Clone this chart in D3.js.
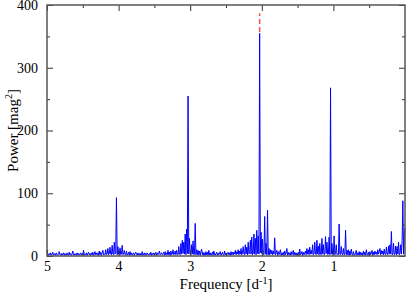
<!DOCTYPE html>
<html>
<head>
<meta charset="utf-8">
<script src="https://cdn.jsdelivr.net/npm/d3@7"></script>
<style>
body { margin: 0; background: #fff; }
</style>
</head>
<body>
<svg id="viz"></svg>
<script>
var width = 407;
var height = 293;
var serif = "Liberation Serif";

// periodogram, frequency from 5.00 down to 0.00 in steps of 0.01 d^-1
var fStart = 5.0;
var fStep = 0.01;
var power = [
  9, 2, 1, 4, 2, 5, 1, 3, 6, 1,
  3, 4, 1, 5, 2, 1, 4, 7, 2, 1,
  4, 1, 3, 5, 1, 4, 2, 1, 5, 2,
  1, 6, 2, 4, 1, 3, 8, 2, 1, 4,
  3, 1, 5, 2, 4, 1, 3, 5, 1, 4,
  2, 9, 3, 1, 2, 5, 1, 4, 6, 2,
  4, 1, 5, 2, 6, 1, 3, 7, 2, 5,
  2, 5, 1, 8, 2, 6, 1, 5, 9, 2,
  3, 2, 10, 2, 3, 12, 2, 4, 14, 3,
  2, 17, 3, 2, 22, 3, 5, 93, 2, 15,
  3, 2, 13, 2, 3, 17, 2, 3, 9, 2,
  2, 8, 1, 3, 6, 1, 7, 2, 5, 1,
  3, 5, 1, 4, 6, 2, 1, 5, 2, 4,
  1, 4, 2, 7, 1, 3, 5, 1, 4, 2,
  5, 2, 1, 4, 2, 6, 1, 4, 2, 5,
  2, 4, 6, 1, 5, 2, 4, 8, 2, 4,
  5, 2, 4, 6, 1, 7, 2, 5, 2, 9,
  2, 6, 1, 8, 2, 3, 10, 2, 3, 8,
  2, 9, 3, 2, 15, 3, 2, 20, 3, 25,
  4, 22, 3, 35, 2, 43, 4, 255, 3, 28,
  4, 2, 18, 3, 24, 2, 3, 52, 2, 10,
  2, 9, 2, 8, 1, 7, 11, 2, 6, 1,
  5, 1, 7, 2, 6, 1, 9, 2, 5, 1,
  4, 6, 1, 8, 3, 1, 4, 6, 1, 5,
  2, 5, 7, 1, 3, 6, 2, 1, 8, 2,
  5, 1, 4, 6, 2, 5, 1, 7, 2, 6,
  2, 6, 3, 9, 2, 7, 3, 10, 2, 8,
  3, 12, 2, 4, 15, 3, 2, 18, 3, 14,
  2, 22, 3, 4, 25, 3, 30, 2, 4, 35,
  3, 28, 2, 41, 4, 32, 3, 355, 5, 38,
  4, 27, 3, 2, 63, 3, 20, 2, 73, 2,
  12, 2, 10, 3, 9, 2, 8, 3, 29, 2,
  5, 9, 1, 7, 2, 6, 10, 1, 5, 2,
  6, 1, 8, 2, 5, 12, 1, 6, 2, 5,
  1, 7, 2, 5, 9, 1, 6, 2, 5, 1,
  3, 6, 1, 11, 2, 3, 7, 1, 6, 2,
  5, 8, 2, 12, 3, 10, 2, 14, 3, 9,
  3, 18, 2, 4, 22, 3, 2, 25, 3, 16,
  2, 20, 3, 2, 28, 3, 18, 2, 3, 31,
  4, 22, 2, 3, 30, 2, 268, 3, 20, 2,
  3, 32, 2, 4, 18, 2, 3, 2, 51, 3,
  2, 15, 3, 2, 12, 2, 3, 41, 2, 9,
  2, 10, 1, 8, 2, 11, 3, 1, 7, 2,
  1, 6, 9, 1, 5, 2, 7, 1, 6, 2,
  5, 1, 8, 2, 6, 1, 10, 3, 1, 6,
  1, 7, 2, 5, 9, 1, 6, 2, 8, 3,
  6, 2, 10, 3, 7, 12, 2, 9, 3, 8,
  2, 11, 3, 2, 14, 3, 2, 16, 3, 18,
  3, 39, 2, 3, 20, 2, 3, 16, 2, 15,
  3, 22, 2, 4, 18, 3, 25, 88, 3, 30,
  45
];

// red dashed marker above the main peak
var markFreq = 2.03;
var markRange = [357, 387];

var xTicks = [5, 4, 3, 2, 1];
var xMinor = [4.5, 3.5, 2.5, 1.5, 0.5];
var yTicks = [0, 100, 200, 300, 400];
var yMinor = [50, 150, 250, 350];

var m = {left: 47, right: 2, top: 5, bottom: 37};

var svg = d3.select("#viz")
    .attr("width", width)
    .attr("height", height)
    .style("font-family", serif);

var x = d3.scaleLinear()
    .domain([5, 0])
    .range([m.left, width - m.right]);

var y = d3.scaleLinear()
    .domain([0, 400])
    .range([height - m.bottom, m.top]);

var pts = power.map(function(p, i) {
    return [fStart - i * fStep, p];
});

var line = d3.line()
    .x(function(d) { return x(d[0]); })
    .y(function(d) { return y(d[1]); });

svg.append("path")
    .datum(pts)
    .attr("d", line)
    .attr("fill", "none")
    .attr("stroke", "#0000ff")
    .attr("stroke-width", 1);

svg.append("line")
    .attr("x1", x(markFreq)).attr("x2", x(markFreq))
    .attr("y1", y(markRange[0])).attr("y2", y(markRange[1]))
    .attr("stroke", "#ff5050")
    .attr("stroke-width", 1.5)
    .attr("stroke-dasharray", "5,3");

var x0 = m.left, x1 = width - m.right, y0 = height - m.bottom, y1 = m.top;

// axes with inward ticks on all four sides
function styleAxis(g) {
    g.attr("font-family", serif);
    g.select(".domain").remove();
    g.selectAll(".tick line").attr("stroke", "#333").attr("stroke-width", 1);
    g.selectAll(".tick text")
        .attr("fill", "#000")
        .style("font-family", serif)
        .style("font-size", "14px");
}

svg.append("g")
    .attr("transform", "translate(0," + y0 + ")")
    .call(d3.axisBottom(x).tickValues(xTicks).tickSizeInner(-6).tickPadding(5).tickFormat(d3.format("d")))
    .call(styleAxis);
svg.append("g")
    .attr("transform", "translate(0," + y0 + ")")
    .call(d3.axisBottom(x).tickValues(xMinor).tickSizeInner(-3).tickFormat(""))
    .call(styleAxis);
svg.append("g")
    .attr("transform", "translate(0," + y1 + ")")
    .call(d3.axisTop(x).tickValues(xTicks).tickSizeInner(-6).tickFormat(""))
    .call(styleAxis);
svg.append("g")
    .attr("transform", "translate(0," + y1 + ")")
    .call(d3.axisTop(x).tickValues(xMinor).tickSizeInner(-3).tickFormat(""))
    .call(styleAxis);

svg.append("g")
    .attr("transform", "translate(" + x0 + ",0)")
    .call(d3.axisLeft(y).tickValues(yTicks).tickSizeInner(-6).tickPadding(9).tickFormat(d3.format("d")))
    .call(styleAxis);
svg.append("g")
    .attr("transform", "translate(" + x0 + ",0)")
    .call(d3.axisLeft(y).tickValues(yMinor).tickSizeInner(-3).tickFormat(""))
    .call(styleAxis);
svg.append("g")
    .attr("transform", "translate(" + x1 + ",0)")
    .call(d3.axisRight(y).tickValues(yTicks).tickSizeInner(-6).tickFormat(""))
    .call(styleAxis);
svg.append("g")
    .attr("transform", "translate(" + x1 + ",0)")
    .call(d3.axisRight(y).tickValues(yMinor).tickSizeInner(-3).tickFormat(""))
    .call(styleAxis);

svg.append("rect")
    .attr("x", x0).attr("y", y1)
    .attr("width", x1 - x0).attr("height", y0 - y1)
    .attr("fill", "none")
    .attr("stroke", "#555")
    .attr("stroke-width", 1.5);

var xl = svg.append("text")
    .attr("x", (x0 + x1) / 2)
    .attr("y", 289)
    .attr("text-anchor", "middle")
    .style("font-family", serif)
    .style("font-size", "15px");
xl.append("tspan").text("Frequency [d");
xl.append("tspan").attr("dy", -5).style("font-size", "10px").text("-1");
xl.append("tspan").attr("dy", 5).text("]");

var yl = svg.append("text")
    .attr("transform", "translate(18," + ((y0 + y1) / 2) + ") rotate(-90)")
    .attr("text-anchor", "middle")
    .style("font-family", serif)
    .style("font-size", "15px");
yl.append("tspan").text("Power [mag");
yl.append("tspan").attr("dy", -6).style("font-size", "10px").text("2");
yl.append("tspan").attr("dy", 6).text("]");
</script>
</body>
</html>
